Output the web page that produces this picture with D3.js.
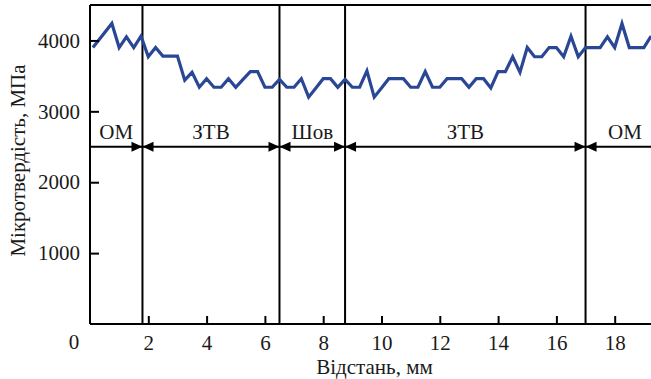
<!DOCTYPE html>
<html>
<head>
<meta charset="utf-8">
<script src="https://cdn.jsdelivr.net/npm/d3@7"></script>
<style>
  html, body { margin: 0; padding: 0; background: #fff; }
  svg { display: block; }
</style>
</head>
<body>
<svg id="chart" width="651" height="379"></svg>
<script>
// Microhardness profile across the welded joint
const distance = [0.1, 0.75, 1.0, 1.25, 1.5, 1.75, 2.0, 2.25, 2.5, 2.75, 3.0, 3.25, 3.5, 3.75,
  4.0, 4.25, 4.5, 4.75, 5.0, 5.25, 5.5, 5.75, 6.0, 6.25, 6.5, 6.75, 7.0, 7.25, 7.5, 7.75,
  8.0, 8.25, 8.5, 8.75, 9.0, 9.25, 9.5, 9.75, 10.0, 10.25, 10.5, 10.75, 11.0, 11.25, 11.5,
  11.75, 12.0, 12.25, 12.5, 12.75, 13.0, 13.25, 13.5, 13.75, 14.0, 14.25, 14.5, 14.75, 15.0,
  15.25, 15.5, 15.75, 16.0, 16.25, 16.5, 16.75, 17.0, 17.25, 17.5, 17.75, 18.0, 18.25, 18.5,
  18.75, 19.0, 19.25];
const hardness = [3900, 4240, 3900, 4050, 3900, 4060, 3770, 3900, 3780, 3780, 3780, 3440, 3550, 3340,
  3460, 3340, 3340, 3460, 3340, 3450, 3560, 3560, 3340, 3340, 3450, 3340, 3340, 3460, 3200, 3330,
  3460, 3460, 3340, 3450, 3340, 3340, 3570, 3200, 3330, 3460, 3460, 3460, 3340, 3340, 3560,
  3340, 3340, 3460, 3460, 3460, 3340, 3460, 3460, 3330, 3560, 3560, 3770, 3550, 3900,
  3770, 3770, 3900, 3900, 3770, 4060, 3770, 3900, 3900, 3900, 4050, 3900, 4240, 3900,
  3900, 3900, 4060];

// Zone boundaries (mm) and zone names
const boundaries = [1.8, 6.5, 8.75, 17.0];
const zoneEdges = [0, 1.8, 6.5, 8.75, 17.0, 19.7];
const zoneNames = ["ОМ", "ЗТВ", "Шов", "ЗТВ", "ОМ"];
const arrowLevel = 2500;

const xTicks = [2, 4, 6, 8, 10, 12, 14, 16, 18];
const yTicks = [1000, 2000, 3000, 4000];
const xTitle = "Відстань, мм";
const yTitle = "Мікротвердість, МПа";

const W = 651, H = 379;
const mLeft = 90, mTop = 5, mBottom = 324, mRight = W;
const x = d3.scaleLinear().domain([0, 20]).range([mLeft, mLeft + 583]);
const y = d3.scaleLinear().domain([0, 4500]).range([mBottom, mTop]);

const FONT = "'Liberation Serif', 'Times New Roman', 'DejaVu Serif', serif";
const fs = 21;
const ink = "#1a1a1a";

const svg = d3.select("#chart");
svg.append("defs").append("clipPath").attr("id", "plot")
  .append("rect").attr("x", mLeft).attr("y", 0).attr("width", mRight - mLeft).attr("height", mBottom);

const g = svg.append("g");

// Frame: top line
g.append("line").attr("x1", mLeft).attr("x2", mRight).attr("y1", mTop).attr("y2", mTop)
  .attr("stroke", "#000").attr("stroke-width", 2);

// Zone boundaries
g.selectAll(".bound").data(boundaries).join("line")
  .attr("x1", d => x(d)).attr("x2", d => x(d))
  .attr("y1", mTop).attr("y2", mBottom)
  .attr("stroke", "#000").attr("stroke-width", 2);

// Dimension line with arrowheads
const ya = y(arrowLevel);
g.append("line").attr("x1", mLeft).attr("x2", mRight).attr("y1", ya).attr("y2", ya)
  .attr("stroke", "#000").attr("stroke-width", 2);
const aL = 11, aH = 5;
boundaries.forEach(b => {
  const bx = x(b);
  g.append("path").attr("d", `M${bx},${ya} L${bx - aL},${ya - aH} L${bx - aL},${ya + aH} Z`).attr("fill", "#000");
  g.append("path").attr("d", `M${bx},${ya} L${bx + aL},${ya - aH} L${bx + aL},${ya + aH} Z`).attr("fill", "#000");
});

// Zone names
g.selectAll(".zone").data(zoneNames).join("text")
  .attr("x", (d, i) => x((zoneEdges[i] + zoneEdges[i + 1]) / 2))
  .attr("y", 139)
  .attr("text-anchor", "middle")
  .style("font-family", FONT).style("font-size", fs + "px").style("fill", ink)
  .text(d => d);

// Hardness line
const line = d3.line().x((d, i) => x(distance[i])).y(d => y(d));
g.append("path").datum(hardness)
  .attr("clip-path", "url(#plot)")
  .attr("d", line)
  .attr("fill", "none")
  .attr("stroke", "#2a4795")
  .attr("stroke-width", 3.2)
  .attr("stroke-linejoin", "miter");

// Axes
const xAxis = d3.axisBottom(x).tickValues(xTicks).tickFormat(d3.format("d"))
  .tickSizeInner(-8).tickSizeOuter(0).tickPadding(11);
const gx = g.append("g").attr("transform", `translate(0,${mBottom})`).call(xAxis);
gx.select(".domain").attr("d", `M${mLeft},0H${mRight}`).attr("stroke-width", 2).attr("stroke", "#000");
gx.selectAll(".tick line").attr("stroke-width", 2).attr("stroke", "#000");
gx.selectAll("text").style("font-family", FONT).style("font-size", fs + "px").style("fill", ink);

const yAxis = d3.axisLeft(y).tickValues(yTicks).tickFormat(d3.format("d"))
  .tickSizeInner(-9).tickSizeOuter(0).tickPadding(10);
const gy = g.append("g").attr("transform", `translate(${mLeft},0)`).call(yAxis);
gy.select(".domain").attr("d", `M0,${mBottom}V${mTop}`).attr("stroke-width", 2).attr("stroke", "#000");
gy.selectAll(".tick line").attr("stroke-width", 2).attr("stroke", "#000");
gy.selectAll("text").style("font-family", FONT).style("font-size", fs + "px").style("fill", ink);

// Origin label
g.append("text").attr("x", mLeft - 16).attr("y", mBottom + 25)
  .attr("text-anchor", "middle")
  .style("font-family", FONT).style("font-size", fs + "px").style("fill", ink)
  .text("0");

// Axis titles
g.append("text").attr("x", (mLeft + mRight) / 2 + 4).attr("y", 374)
  .attr("text-anchor", "middle")
  .style("font-family", FONT).style("font-size", fs + "px").style("fill", ink)
  .text(xTitle);
g.append("text").attr("transform", `translate(25,${(mTop + mBottom) / 2 - 4}) rotate(-90)`)
  .attr("text-anchor", "middle")
  .style("font-family", FONT).style("font-size", fs + "px").style("fill", ink)
  .text(yTitle);
</script>
</body>
</html>
